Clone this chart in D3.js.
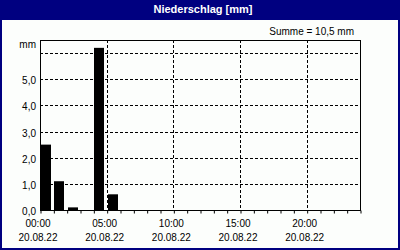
<!DOCTYPE html>
<html lang="de">
<head>
  <meta charset="UTF-8">
  <title>Niederschlag</title>
  <script src="https://d3js.org/d3.v7.min.js"></script>
  <style>
    body { margin: 0; background: #fff; }
    text { font-family: "Liberation Sans", Arial, sans-serif; font-size: 10px; fill: #000; }
  </style>
</head>
<body>
  <div id="chart"></div>
  <script>
    // hourly precipitation on 20.08.22 (mm)
    const hours = [0, 1, 2, 3, 4, 5];
    const values = [2.5, 1.1, 0.1, 0, 6.2, 0.6];
    const yTicks = [0, 1, 2, 3, 4, 5];
    const yGrid = [1, 2, 3, 4, 5, 6];
    const xMajor = [0, 5, 10, 15, 20];
    const xLabels = ["00:00", "05:00", "10:00", "15:00", "20:00"];
    const dateLabel = "20.08.22";
    const total = "Summe = 10,5 mm";

    const width = 400, height = 250;
    const margin = {top: 40, right: 40, bottom: 40, left: 40};
    const navy = "#000080";

    const svg = d3.select("#chart").append("svg")
      .attr("width", width)
      .attr("height", height);

    svg.append("rect")
      .attr("x", 1).attr("y", 1)
      .attr("width", width - 2).attr("height", height - 2)
      .attr("fill", "#fcfefc")
      .attr("stroke", navy).attr("stroke-width", 2);

    svg.append("rect")
      .attr("x", 0).attr("y", 0)
      .attr("width", width).attr("height", 20)
      .attr("fill", navy);

    svg.append("text")
      .attr("x", 203).attr("y", 13)
      .attr("text-anchor", "middle")
      .style("font-weight", "bold")
      .style("font-size", "11px")
      .style("fill", "#fff")
      .text("Niederschlag [mm]");

    svg.append("text")
      .attr("x", 354).attr("y", 35)
      .attr("text-anchor", "end")
      .text(total);

    const x = d3.scaleLinear()
      .domain([0, 24])
      .range([margin.left, width - margin.right]);

    const y = d3.scaleLinear()
      .domain([0, 6.5])
      .range([height - margin.bottom, margin.top]);

    // grid
    svg.append("g")
      .selectAll("line")
      .data(yGrid)
      .join("line")
        .attr("x1", x(0)).attr("x2", x(24))
        .attr("y1", d => Math.round(y(d)) + 0.5)
        .attr("y2", d => Math.round(y(d)) + 0.5)
        .attr("stroke", "#000")
        .attr("stroke-dasharray", "3,2");

    svg.append("g")
      .selectAll("line")
      .data(xMajor.slice(1))
      .join("line")
        .attr("x1", d => Math.round(x(d)) + 0.5)
        .attr("x2", d => Math.round(x(d)) + 0.5)
        .attr("y1", y(6.5)).attr("y2", y(0))
        .attr("stroke", "#000")
        .attr("stroke-dasharray", "3,2");

    // bars
    svg.append("g")
      .selectAll("rect")
      .data(hours)
      .join("rect")
        .attr("x", d => Math.round(x(d)) + 1)
        .attr("y", (d, i) => y(values[i]))
        .attr("width", d => Math.round(x(d + 0.75) - x(d)))
        .attr("height", (d, i) => y(0) - y(values[i]))
        .attr("fill", "#000");

    // frame
    svg.append("rect")
      .attr("x", x(0) + 0.5).attr("y", y(6.5) + 0.5)
      .attr("width", x(24) - x(0)).attr("height", y(0) - y(6.5))
      .attr("fill", "none")
      .attr("stroke", "#000");

    // x axis ticks (hourly)
    const xAxis = svg.append("g")
      .attr("transform", `translate(0.5,${y(0) + 0.5})`)
      .call(d3.axisBottom(x).tickValues(d3.range(0, 25)).tickSize(3).tickFormat(""));
    xAxis.select(".domain").remove();

    const xText = svg.append("g")
      .selectAll("g")
      .data(xMajor)
      .join("g")
        .attr("transform", d => `translate(${x(d) - 2},0)`);
    xText.append("text")
      .attr("y", 227)
      .attr("text-anchor", "middle")
      .text((d, i) => xLabels[i]);
    xText.append("text")
      .attr("y", 241)
      .attr("text-anchor", "middle")
      .text(dateLabel);

    // y axis labels
    const yAxis = svg.append("g")
      .attr("transform", `translate(${x(0)},0)`)
      .call(d3.axisLeft(y).tickValues(yTicks).tickSize(0).tickPadding(4)
        .tickFormat(d => d3.format(".1f")(d).replace(".", ",")));
    yAxis.select(".domain").remove();
    yAxis.selectAll("text")
      .attr("dy", "0.45em")
      .style("font-family", "'Liberation Sans', Arial, sans-serif")
      .style("font-size", "10px");

    svg.append("text")
      .attr("x", 36).attr("y", 48)
      .attr("text-anchor", "end")
      .text("mm");
  </script>
</body>
</html>
